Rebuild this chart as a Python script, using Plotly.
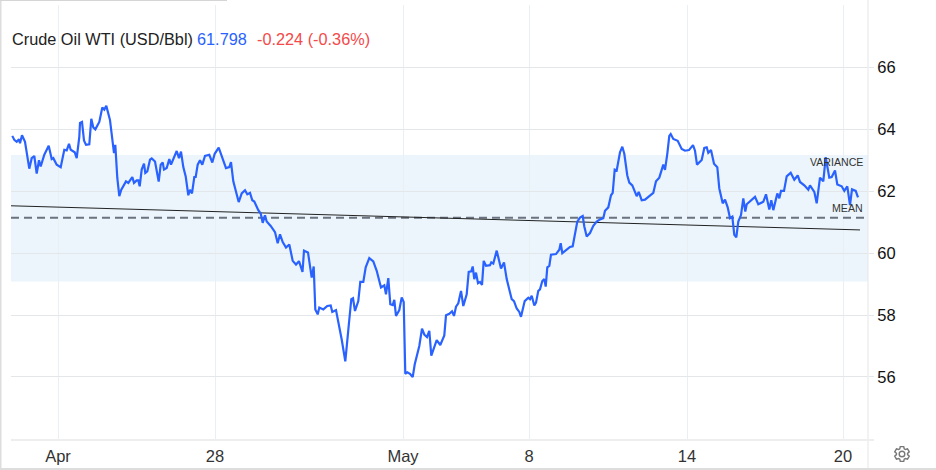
import numpy as np
import plotly.graph_objects as go

W, H = 936, 470
LEFT, RIGHT, TOP, BOTTOM = 11, 868, 5, 440

# position along the session axis, one list per stretch of the chart
session = [
    12.3, 14.3, 16.7, 19, 20, 22, 25, 26.7, 29.3, 31.7, 34.3, 36.7, 39, 40.7, 44.3, 48.7, 51.7, 53.3, 56.7, 60.7,
    64.3, 66.7, 69, 70.7, 74.7, 76.7, 79.3, 80, 82, 84, 86, 89.3, 91.3, 93.3, 95.3, 99.3, 102.3, 104.3, 106.3, 110,
    112.7, 114, 115.3, 117.3, 119.3, 121.3, 126, 128.3, 132.3, 134, 136.7, 138.3, 139.7, 141.7, 144, 145.3, 147.3, 150, 151.7, 155,
    158.7, 160.7, 162.7, 164, 166.7, 169.3, 171, 174, 176.7, 179, 181, 183.3, 185.7, 188.3, 190, 192, 194.3, 195.7, 197.7, 200,
    202.3, 205, 209.3, 212.3, 214.7, 218.7, 221.7, 226, 229.3, 231, 233.3, 238.7, 241.7, 245, 247.3, 250, 252.3, 254.3, 258.3, 260.7,
    262.7, 265, 266.7, 270.7, 275, 277.7, 280, 282.7, 286, 289.3, 292.7, 296, 299, 302.5, 304, 308, 311.7, 313.7, 315.3, 317.7,
    319.3, 323.3, 327.3, 330.7, 332.3, 336, 341.7, 345.3, 349, 351.3, 353, 355, 358.3, 360.3, 363.3, 365.7, 369.3, 373.3, 376.7, 381,
    384.3, 386, 388.3, 390.3, 392.7, 394.3, 396, 399.3, 401.7, 403.7, 405.3, 407.3, 410, 412.7, 414.7, 419.3, 422, 424.3, 427, 429.3,
    431.3, 436.7, 440.3, 444.3, 446, 449.3, 452, 454, 456, 458.3, 461, 463.3, 466.7, 468.7, 471.3, 472.7, 474.3, 476, 478, 480,
    482, 483.7, 486, 490, 491.3, 493.3, 496.7, 501, 504, 506.7, 511.7, 514, 516.7, 519.3, 521, 524.7, 528.3, 530, 531.7, 534.3,
    536, 538.3, 540, 542.3, 544.3, 545.7, 547.3, 549.3, 551, 556, 559.3, 560.7, 562.3, 566.7, 570, 572.7, 575, 577.3, 580, 582.7,
    584.3, 586.7, 590, 593.3, 596.7, 600, 603.3, 605, 608.3, 611, 612.7, 614.7, 616.7, 620, 622.3, 624.3, 627.3, 629.3, 632.3, 636.7,
    638.7, 641.7, 645, 650, 653.3, 656, 659.3, 663.3, 665, 667.3, 669.3, 670.7, 673.3, 677.7, 681.7, 685, 689, 693, 695, 697,
    701.7, 704.3, 706.7, 708.3, 711, 714, 717.3, 719.3, 722.7, 725, 727.7, 730, 732.3, 734.3, 736.3, 738.3, 741, 743.3, 745.3, 746.7,
    751.7, 755, 758.3, 763.3, 766, 769.3, 771.3, 773.3, 777.3, 779.3, 781, 784, 786.7, 790.7, 794.3, 797.7, 800, 804.3, 808.3, 810,
    814.3, 816.7, 820, 823.3, 825.7, 829.3, 831.7, 835, 837.3, 841.7, 844.3, 847.3, 850, 852, 855.7, 858,
]
price = [
    63.79, 63.66, 63.60, 63.68, 63.55, 63.81, 63.60, 63.28, 62.73, 63.07, 63.14, 62.57, 63.00, 62.80, 63.18, 63.47, 63.04, 63.07, 62.86, 62.78,
    63.34, 63.32, 63.53, 63.34, 63.26, 63.07, 63.76, 64.21, 64.24, 63.64, 63.50, 63.52, 64.34, 64.06, 64.00, 64.24, 64.71, 64.64, 64.76, 64.30,
    63.50, 63.23, 63.50, 62.43, 61.84, 62.05, 62.32, 62.27, 62.46, 62.27, 62.35, 62.35, 62.16, 62.70, 62.89, 62.59, 62.64, 63.02, 63.06, 62.96,
    62.31, 62.86, 62.93, 62.70, 62.75, 63.04, 62.86, 63.07, 63.30, 63.07, 63.28, 62.78, 62.48, 61.87, 62.05, 61.93, 62.46, 62.46, 62.86, 63.00,
    62.86, 63.14, 63.18, 62.93, 63.21, 63.41, 63.12, 62.75, 62.78, 62.94, 62.32, 61.65, 61.93, 62.03, 61.90, 61.95, 61.71, 61.67, 61.39, 61.28,
    60.98, 61.22, 61.02, 60.88, 60.68, 60.32, 60.61, 60.36, 60.18, 60.28, 59.75, 59.63, 59.74, 59.39, 60.08, 60.02, 59.21, 59.57, 58.18, 58.02,
    58.24, 58.18, 58.29, 58.31, 58.10, 58.16, 57.21, 56.50, 57.75, 58.51, 58.54, 58.13, 58.45, 59.07, 59.07, 59.54, 59.84, 59.73, 59.43, 58.89,
    58.96, 58.67, 59.19, 58.35, 58.32, 58.49, 57.97, 58.16, 58.57, 58.42, 56.10, 56.15, 56.10, 55.99, 56.40, 57.00, 57.56, 57.37, 57.29, 57.49,
    56.69, 57.19, 57.03, 57.34, 57.99, 58.04, 58.12, 57.97, 58.27, 58.38, 58.78, 58.29, 58.67, 59.39, 59.41, 59.57, 59.16, 59.37, 59.03, 59.07,
    58.97, 59.75, 59.59, 59.61, 59.70, 59.66, 60.08, 59.50, 59.70, 59.16, 58.51, 58.45, 58.21, 58.10, 57.94, 58.45, 58.56, 58.51, 58.62, 58.31,
    58.40, 58.78, 58.83, 59.10, 59.16, 58.92, 59.54, 59.59, 59.95, 59.97, 60.11, 60.32, 60.00, 60.13, 60.20, 60.22, 60.59, 61.02, 61.15, 61.20,
    60.86, 60.54, 60.65, 60.88, 61.02, 61.09, 61.13, 61.37, 61.48, 61.87, 61.95, 62.70, 62.67, 63.26, 63.44, 63.21, 62.51, 62.28, 62.19, 61.84,
    61.98, 61.71, 61.73, 61.87, 61.95, 62.32, 62.44, 62.86, 62.69, 63.21, 63.79, 63.85, 63.69, 63.63, 63.37, 63.31, 63.33, 63.49, 63.31, 62.86,
    63.01, 63.40, 63.42, 63.24, 63.33, 62.89, 62.78, 62.09, 61.61, 61.73, 61.48, 61.13, 61.18, 60.59, 60.51, 61.02, 61.23, 61.77, 61.34, 61.58,
    61.71, 61.82, 61.58, 61.66, 61.90, 61.41, 61.71, 61.39, 61.93, 61.77, 62.01, 62.01, 62.48, 62.60, 62.37, 62.51, 62.30, 62.19, 62.05, 62.19,
    61.98, 61.61, 62.44, 62.32, 63.10, 62.44, 62.46, 62.67, 62.22, 62.16, 62.01, 62.16, 61.55, 62.06, 62.01, 61.80,
]

x_ticks = [58, 215, 403, 529, 687, 843]
x_labels = ["Apr", "28", "May", "8", "14", "20"]
y_ticks = [56, 58, 60, 62, 64, 66]

trend_x = [11, 860]
trend_y = [61.53, 60.75]
mean_x = [11, 866]
mean_y = [61.14, 61.14]
variance_low, variance_high = 59.08, 63.17

BLUE = "#2962ff"
FONT = "Liberation Sans"


def px(x):
    return x / (RIGHT - LEFT) - LEFT / (RIGHT - LEFT)


def py(y):
    return (BOTTOM - y) / (BOTTOM - TOP)


def gear_path(cx, cy, r_out=7.6, r_in=5.6, teeth=6):
    # outline of the settings icon, in page pixels
    pts = []
    for i in range(teeth):
        a = 2 * np.pi * i / teeth - np.pi / 2
        step = 2 * np.pi / teeth
        for da, r in [(-0.30, r_in), (-0.17, r_out), (0.17, r_out), (0.30, r_in)]:
            t = a + da * step * 1.3
            pts.append((cx + r * np.cos(t), cy + r * np.sin(t)))
    return "M" + "L".join(f"{px(a):.5f},{py(b):.5f}" for a, b in pts) + "Z"


fig = go.Figure()

fig.add_trace(go.Scatter(x=mean_x, y=mean_y, mode="lines", hoverinfo="skip",
                         line=dict(color="#6b7280", width=2, dash="8px,5px")))
fig.add_trace(go.Scatter(x=trend_x, y=trend_y, mode="lines", hoverinfo="skip",
                         line=dict(color="#222222", width=1)))
fig.add_trace(go.Scatter(x=session, y=price, mode="lines", name="Crude Oil WTI",
                         line=dict(color=BLUE, width=2.2, shape="linear")))

# variance band, under the grid
fig.add_shape(type="rect", layer="below", xref="paper", yref="y", x0=0, x1=1,
              y0=variance_low, y1=variance_high, fillcolor="#ebf5fb", line_width=0)
# backing of the header, hides the grid behind the text
fig.add_shape(type="rect", layer="between", xref="paper", yref="paper", x0=0, x1=px(380),
              y0=py(54), y1=py(22), fillcolor="white", line_width=0)

# frame lines around the plot
frame = [
    (RIGHT, 0, RIGHT, 468, "#e6e6e6", 1),
    (LEFT, BOTTOM, 874, BOTTOM, "#eeeeee", 2),
    (0.5, 0, 0.5, 470, "#dddddd", 2),
    (0, 469, 936, 469, "#dddddd", 2),
    (0, 0, 227, 0, "#d5d5d5", 2),
]
for x0, y0, x1, y1, color, width in frame:
    fig.add_shape(type="line", xref="paper", yref="paper", x0=px(x0), x1=px(x1), y0=py(y0), y1=py(y1),
                  line=dict(color=color, width=width))

# settings icon
fig.add_shape(type="path", xref="paper", yref="paper", path=gear_path(902, 454),
              line=dict(color="#777777", width=1.4), fillcolor="rgba(0,0,0,0)")
fig.add_shape(type="circle", xref="paper", yref="paper", x0=px(899.2), x1=px(904.8), y0=py(456.8), y1=py(451.2),
              line=dict(color="#777777", width=1.4))

header = [
    (12, "Crude Oil WTI (USD/Bbl)", "#222222"),
    (197, "61.798", BLUE),
    (257, "-0.224 (-0.36%)", "#f44949"),
]
for x, text, color in header:
    fig.add_annotation(xref="paper", yref="paper", x=px(x), y=py(39), text=text, showarrow=False,
                       xanchor="left", yanchor="middle", borderpad=0, borderwidth=0,
                       font=dict(family=FONT, size=16.3, color=color))

for y, text in [(162, "VARIANCE"), (208, "MEAN")]:
    fig.add_annotation(xref="paper", yref="paper", x=px(863), y=py(y), text=text, showarrow=False,
                       xanchor="right", yanchor="middle", borderpad=0, borderwidth=0,
                       font=dict(family=FONT, size=10.6, color="#333333"))

fig.update_layout(
    width=W, height=H,
    autosize=False,
    margin=dict(l=LEFT, r=W - RIGHT, t=TOP, b=H - BOTTOM, pad=0, autoexpand=False),
    paper_bgcolor="white",
    plot_bgcolor="white",
    showlegend=False,
    font=dict(family=FONT, color="#222222"),
    xaxis=dict(range=[LEFT, RIGHT], tickvals=x_ticks, ticktext=x_labels, showgrid=True, automargin=False,
               gridcolor="#e8f0f4", gridwidth=1, zeroline=False, showline=False, ticks="",
               tickfont=dict(size=16.5, color="#333333"), ticklabelstandoff=4),
    yaxis=dict(range=[53.96, 68.02], side="right", tickvals=y_ticks, showgrid=True, automargin=False,
               gridcolor="#e4e7ea", gridwidth=1, zeroline=False, showline=False,
               ticks="outside", ticklen=5, tickcolor="#e4e7ea",
               tickfont=dict(size=16.5, color="#111111"), ticklabelstandoff=0),
)

# the page's default body margin would shift the chart by 8px
fig.write_html("out.html", config=dict(displayModeBar=False),
               post_script="document.body.style.margin='0';window.dispatchEvent(new Event('resize'));")
